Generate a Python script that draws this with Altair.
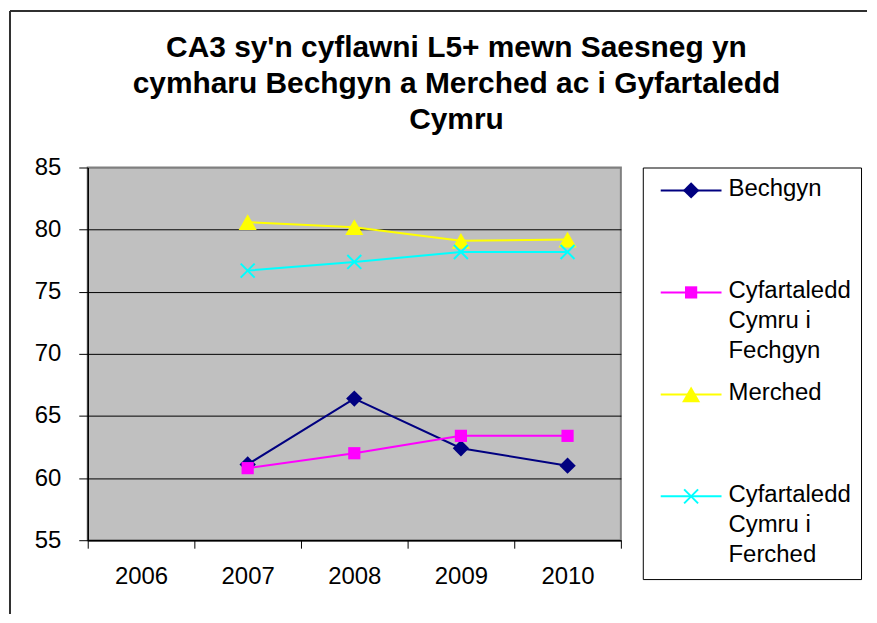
import altair as alt
import pandas as pd

# ---------------- data ----------------
years = ["2006", "2007", "2008", "2009", "2010"]
data_years = ["2007", "2008", "2009", "2010"]
series_names = [
    "Bechgyn",
    "Cyfartaledd Cymru i Fechgyn",
    "Merched",
    "Cyfartaledd Cymru i Ferched",
]
legend_labels = [
    "Bechgyn",
    "Cyfartaledd\nCymru i\nFechgyn",
    "Merched",
    "Cyfartaledd\nCymru i\nFerched",
]
bechgyn = [61.1, 66.4, 62.4, 61.0]
cymru_fechgyn = [60.8, 62.0, 63.4, 63.4]
merched = [80.6, 80.2, 79.1, 79.2]
cymru_ferched = [76.7, 77.4, 78.2, 78.2]
y_ticks = [55, 60, 65, 70, 75, 80, 85]
title_lines = [
    "CA3 sy'n cyflawni L5+ mewn Saesneg yn",
    "cymharu Bechgyn a Merched ac i Gyfartaledd",
    "Cymru",
]

# ---------------- styles ----------------
colors = ["#000080", "#FF00FF", "#FFFF00", "#00FFFF"]
shapes = ["diamond", "square", "triangle-up", "M-1,-1L1,1M-1,1L1,-1"]
sizes = [270, 150, 330, 196]
filled = [True, True, True, False]
FONT = "Liberation Sans"

values = [bechgyn, cymru_fechgyn, merched, cymru_ferched]
rows = []
for name, vals in zip(series_names, values):
    for yr, v in zip(data_years, vals):
        rows.append({"year": yr, "value": v, "series": name})
df = pd.DataFrame(rows)

x_enc = alt.X(
    "year:N",
    scale=alt.Scale(type="band", domain=years, paddingInner=0, paddingOuter=0),
    axis=alt.Axis(
        title=None, labelAngle=0, tickBand="extent", tickSize=8, labelPadding=16,
        labelFontSize=24, labelFont=FONT, labelColor="black", domainColor="black",
        tickColor="black", grid=False, domainWidth=1.5,
    ),
)
y_enc = alt.Y(
    "value:Q",
    scale=alt.Scale(domain=[55, 85], nice=False, zero=False),
    axis=alt.Axis(
        title=None, values=y_ticks, tickSize=9, labelPadding=18, labelFontSize=24,
        labelFont=FONT, labelColor="black", grid=True,
        gridColor={"condition": {"test": "datum.value == 85", "value": "#808080"}, "value": "black"},
        gridOpacity=1, gridWidth=1, domainColor="black", tickColor="black",
        domainWidth=1.5,
    ),
)

base = alt.Chart(df)
layers = []
for i, name in enumerate(series_names):
    sub = base.transform_filter(alt.datum.series == name)
    layers.append(sub.mark_line(color=colors[i], strokeWidth=2).encode(x=x_enc, y=y_enc))
    layers.append(
        sub.mark_point(
            shape=shapes[i], size=sizes[i], filled=filled[i], color=colors[i],
            opacity=1, strokeWidth=2,
        ).encode(x=x_enc, y=y_enc)
    )

# outer chart frame (top and left edges, as in the reference)
frame_df = pd.DataFrame({"k": [0]})
frame_top = alt.Chart(frame_df).mark_rule(color="#303030", strokeWidth=2).encode(
    x=alt.value(-78), x2=alt.value(782), y=alt.value(-157)
)
frame_left = alt.Chart(frame_df).mark_rule(color="#303030", strokeWidth=2).encode(
    x=alt.value(-78), y=alt.value(-157), y2=alt.value(448)
)

main = alt.layer(*layers, frame_top, frame_left).properties(
    width=535, height=374,
    view=alt.ViewBackground(fill="#C0C0C0", stroke="#808080", strokeWidth=2),
)

# ---------------- legend ----------------
leg_df = pd.DataFrame({
    "idx": list(range(len(series_names))),
    "series": series_names,
    "label": legend_labels,
})
ly = alt.Y("idx:Q", scale=alt.Scale(domain=[-0.2248, 3.811], reverse=True, nice=False, zero=False), axis=None)
lbase = alt.Chart(leg_df)
leg_layers = []
for i, name in enumerate(series_names):
    sub = lbase.transform_filter(alt.datum.series == name)
    leg_layers.append(
        sub.mark_rule(color=colors[i], strokeWidth=2).encode(
            x=alt.value(18), x2=alt.value(79), y=ly
        )
    )
    leg_layers.append(
        sub.mark_point(
            shape=shapes[i], size=sizes[i], filled=filled[i], color=colors[i],
            opacity=1, strokeWidth=2,
        ).encode(x=alt.value(48.5), y=ly)
    )
leg_layers.append(
    lbase.mark_text(
        align="left", baseline="top", dy=-13, fontSize=24, lineHeight=30,
        lineBreak="\n", font=FONT, color="black",
    ).encode(x=alt.value(86), y=ly, text="label:N")
)
legend = alt.layer(*leg_layers).properties(
    width=219, height=413,
    view=alt.ViewBackground(fill="white", stroke="black", strokeWidth=1),
)

chart = alt.hconcat(main, legend, spacing=22, bounds="flush").properties(
    title=alt.Title(
        title_lines, fontSize=30, font=FONT, fontWeight="bold", lineHeight=36,
        anchor="middle", offset=-126, color="black", dx=18,
    ),
    padding={"left": 0, "top": 0, "right": 0, "bottom": 0},
).configure(font=FONT, background="white")

chart.save("out.html", embed_options={"renderer": "svg", "actions": False})
